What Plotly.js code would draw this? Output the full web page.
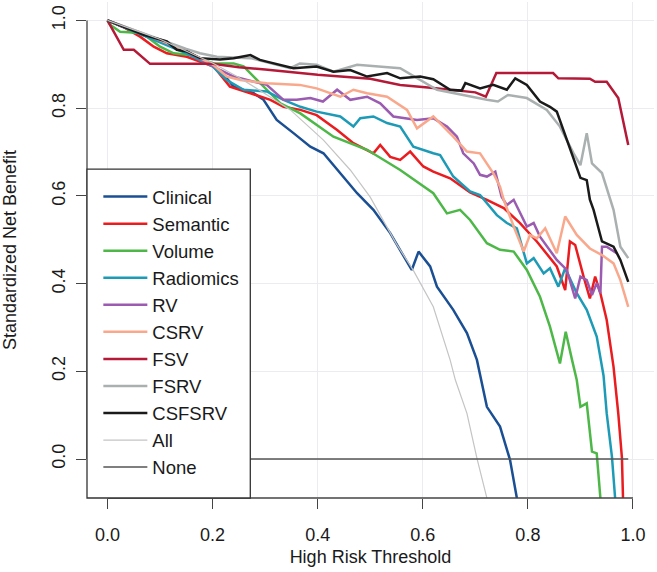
<!DOCTYPE html>
<html>
<head>
<meta charset="utf-8">
<script src="https://cdn.plot.ly/plotly-3.0.1.min.js"></script>
<style>
  html, body { margin: 0; padding: 0; background: #fff; }
  #chart { width: 657px; height: 572px; }
</style>
</head>
<body>
<div id="chart"></div>
<script>
// values
let clinicalX = [0, 0.05, 0.1, 0.15, 0.2, 0.227, 0.24, 0.278, 0.297, 0.322, 0.354, 0.386, 0.411, 0.443, 0.475, 0.506, 0.538, 0.579, 0.592, 0.614, 0.627, 0.658, 0.684, 0.703, 0.722, 0.747, 0.766, 0.779];
let clinicalY = [1.0, 0.975, 0.952, 0.928, 0.9, 0.868, 0.849, 0.834, 0.819, 0.773, 0.743, 0.712, 0.697, 0.652, 0.606, 0.568, 0.515, 0.431, 0.473, 0.439, 0.393, 0.34, 0.287, 0.226, 0.119, 0.074, -0.002, -0.089];

let semanticX = [0, 0.03, 0.062, 0.088, 0.113, 0.151, 0.202, 0.233, 0.272, 0.31, 0.335, 0.367, 0.398, 0.437, 0.468, 0.506, 0.519, 0.538, 0.557, 0.576, 0.601, 0.62, 0.652, 0.69, 0.722, 0.754, 0.785, 0.817, 0.855, 0.871, 0.88, 0.89, 0.906, 0.918, 0.928, 0.938, 0.95, 0.963, 0.972, 0.979, 0.981];
let semanticY = [1.0, 0.985, 0.963, 0.94, 0.925, 0.917, 0.895, 0.849, 0.834, 0.819, 0.803, 0.796, 0.784, 0.75, 0.72, 0.697, 0.716, 0.689, 0.682, 0.701, 0.667, 0.655, 0.64, 0.608, 0.591, 0.572, 0.538, 0.496, 0.439, 0.385, 0.496, 0.488, 0.416, 0.366, 0.416, 0.378, 0.317, 0.21, 0.104, 0.002, -0.089];

let volumeX = [0, 0.005, 0.024, 0.056, 0.075, 0.1, 0.126, 0.157, 0.202, 0.24, 0.259, 0.29, 0.329, 0.367, 0.43, 0.494, 0.557, 0.62, 0.646, 0.671, 0.69, 0.722, 0.747, 0.773, 0.798, 0.823, 0.842, 0.861, 0.872, 0.884, 0.893, 0.9, 0.912, 0.922, 0.931, 0.938];
let volumeY = [1.0, 0.99, 0.974, 0.972, 0.963, 0.94, 0.925, 0.921, 0.902, 0.902, 0.895, 0.857, 0.811, 0.788, 0.735, 0.705, 0.659, 0.606, 0.56, 0.568, 0.545, 0.492, 0.477, 0.473, 0.431, 0.37, 0.302, 0.218, 0.29, 0.226, 0.18, 0.119, 0.127, 0.017, 0.013, -0.089];

let radiomicsX = [0, 0.05, 0.1, 0.15, 0.2, 0.227, 0.259, 0.303, 0.335, 0.367, 0.398, 0.443, 0.468, 0.481, 0.506, 0.532, 0.557, 0.582, 0.62, 0.633, 0.658, 0.69, 0.709, 0.741, 0.76, 0.779, 0.798, 0.811, 0.83, 0.842, 0.858, 0.871, 0.893, 0.912, 0.931, 0.944, 0.95, 0.96, 0.966];
let radiomicsY = [1.0, 0.975, 0.95, 0.925, 0.895, 0.864, 0.842, 0.838, 0.819, 0.803, 0.792, 0.781, 0.758, 0.777, 0.781, 0.766, 0.758, 0.712, 0.697, 0.693, 0.644, 0.61, 0.602, 0.556, 0.538, 0.526, 0.446, 0.458, 0.423, 0.435, 0.393, 0.435, 0.378, 0.34, 0.279, 0.19, 0.104, 0.005, -0.089];

let rvX = [0, 0.05, 0.1, 0.15, 0.214, 0.24, 0.303, 0.335, 0.36, 0.386, 0.41, 0.437, 0.462, 0.494, 0.519, 0.544, 0.589, 0.62, 0.646, 0.665, 0.677, 0.697, 0.709, 0.722, 0.738, 0.75, 0.76, 0.773, 0.798, 0.811, 0.823, 0.855, 0.874, 0.89, 0.9, 0.912, 0.922, 0.931, 0.938, 0.941, 0.95, 0.969];
let rvY = [1.0, 0.978, 0.955, 0.93, 0.887, 0.872, 0.853, 0.819, 0.819, 0.823, 0.815, 0.842, 0.819, 0.826, 0.811, 0.781, 0.773, 0.777, 0.758, 0.735, 0.697, 0.674, 0.648, 0.644, 0.655, 0.598, 0.579, 0.591, 0.53, 0.538, 0.507, 0.454, 0.431, 0.366, 0.416, 0.408, 0.374, 0.401, 0.378, 0.484, 0.484, 0.469];

let csrvX = [0, 0.05, 0.1, 0.15, 0.2, 0.227, 0.253, 0.303, 0.366, 0.398, 0.443, 0.468, 0.494, 0.532, 0.57, 0.589, 0.62, 0.658, 0.684, 0.709, 0.734, 0.747, 0.754, 0.773, 0.792, 0.804, 0.817, 0.833, 0.855, 0.871, 0.893, 0.918, 0.941, 0.963, 0.976, 0.991];
let csrvY = [1.0, 0.978, 0.955, 0.93, 0.9, 0.872, 0.864, 0.857, 0.853, 0.845, 0.826, 0.842, 0.834, 0.826, 0.796, 0.754, 0.781, 0.735, 0.701, 0.697, 0.652, 0.621, 0.591, 0.53, 0.473, 0.511, 0.503, 0.526, 0.469, 0.553, 0.511, 0.48, 0.465, 0.446, 0.408, 0.347];

let fsvX = [0, 0.031, 0.05, 0.081, 0.2, 0.25, 0.3, 0.4, 0.5, 0.557, 0.62, 0.652, 0.7, 0.72, 0.74, 0.848, 0.858, 0.918, 0.928, 0.95, 0.972, 0.991];
let fsvY = [1.0, 0.933, 0.933, 0.901, 0.901, 0.893, 0.888, 0.876, 0.867, 0.853, 0.846, 0.842, 0.836, 0.826, 0.88, 0.88, 0.868, 0.867, 0.86, 0.86, 0.823, 0.716];

let fsrvX = [0, 0.05, 0.1, 0.15, 0.176, 0.208, 0.272, 0.348, 0.366, 0.398, 0.43, 0.475, 0.557, 0.6, 0.627, 0.722, 0.743, 0.762, 0.798, 0.836, 0.861, 0.887, 0.9, 0.912, 0.922, 0.941, 0.953, 0.963, 0.976, 0.991];
let fsrvY = [1.0, 0.978, 0.957, 0.935, 0.925, 0.917, 0.914, 0.891, 0.902, 0.899, 0.883, 0.899, 0.891, 0.862, 0.842, 0.819, 0.815, 0.83, 0.823, 0.796, 0.758, 0.697, 0.67, 0.743, 0.674, 0.652, 0.606, 0.568, 0.484, 0.458];

let csfsrvX = [0, 0.069, 0.113, 0.132, 0.151, 0.176, 0.214, 0.24, 0.272, 0.29, 0.303, 0.354, 0.398, 0.43, 0.462, 0.494, 0.532, 0.557, 0.595, 0.62, 0.652, 0.674, 0.681, 0.709, 0.734, 0.76, 0.776, 0.798, 0.823, 0.842, 0.855, 0.874, 0.887, 0.9, 0.912, 0.918, 0.925, 0.941, 0.963, 0.976, 0.991];
let csfsrvY = [1.0, 0.967, 0.952, 0.933, 0.929, 0.914, 0.911, 0.914, 0.921, 0.91, 0.906, 0.891, 0.895, 0.883, 0.887, 0.872, 0.88, 0.868, 0.872, 0.866, 0.842, 0.84, 0.857, 0.845, 0.853, 0.842, 0.868, 0.853, 0.815, 0.803, 0.792, 0.727, 0.682, 0.641, 0.636, 0.591, 0.568, 0.496, 0.484, 0.454, 0.404];

let allX = [0, 0.1, 0.2, 0.25, 0.3, 0.348, 0.411, 0.462, 0.5, 0.55, 0.582, 0.62, 0.652, 0.662, 0.684, 0.703, 0.722];
let allY = [1.0, 0.957, 0.903, 0.87, 0.833, 0.796, 0.727, 0.659, 0.597, 0.49, 0.43, 0.347, 0.226, 0.18, 0.104, 0.002, -0.089];

let noneX = [0, 0.991];
let noneY = [0, 0];

let tickVals = [0, 0.2, 0.4, 0.6, 0.8, 1.0];

const FONT = 'Liberation Sans, Arial, sans-serif';

function curve(name, x, y, color, width) {
    return {
        x: x,
        y: y,
        name: name,
        type: 'scatter',
        mode: 'lines',
        line: { color: color, width: width },
        hoverinfo: 'skip'
    };
}

let data = [
    curve('Clinical', clinicalX, clinicalY, '#1b4f93', 2.5),
    curve('Semantic', semanticX, semanticY, '#ea1c1f', 2.5),
    curve('Volume', volumeX, volumeY, '#4db848', 2.5),
    curve('Radiomics', radiomicsX, radiomicsY, '#1d9bb6', 2.5),
    curve('RV', rvX, rvY, '#9a5bb0', 2.5),
    curve('CSRV', csrvX, csrvY, '#f9a88c', 2.5),
    curve('FSV', fsvX, fsvY, '#b41a38', 2.5),
    curve('FSRV', fsrvX, fsrvY, '#aab0b0', 2.5),
    curve('CSFSRV', csfsrvX, csfsrvY, '#1a1a1a', 2.5),
    curve('All', allX, allY, '#c4c4c4', 1.2),
    curve('None', noneX, noneY, '#555555', 1.5)
];

let layout = {
    width: 657,
    height: 572,
    margin: { l: 86.7, r: 3.2, t: 2, b: 74 },
    paper_bgcolor: '#ffffff',
    plot_bgcolor: '#ffffff',
    font: { family: FONT, size: 18, color: '#1a1a1a' },
    showlegend: true,
    legend: {
        x: 0.02,
        y: 0.645,
        xanchor: 'left',
        yanchor: 'top',
        bgcolor: 'rgba(0,0,0,0)',
        borderwidth: 0,
        itemwidth: 44,
        font: { family: FONT, size: 18.5, color: '#1a1a1a' },
        tracegroupgap: 0
    },
    xaxis: {
        range: [-0.039, 1.04],
        tickvals: tickVals,
        tickformat: '.1f',
        ticks: 'outside',
        ticklen: 10,
        tickcolor: '#444',
        ticklabelstandoff: 10,
        showline: false,
        zeroline: false,
        showgrid: true,
        gridcolor: '#ebebf0',
        gridwidth: 1,
        title: { text: 'High Risk Threshold', font: { family: FONT, size: 18 }, standoff: 6 }
    },
    yaxis: {
        range: [-0.0889, 1.042],
        tickvals: tickVals,
        tickformat: '.1f',
        tickangle: -90,
        ticks: 'outside',
        ticklen: 10,
        tickcolor: '#444',
        ticklabelstandoff: 4,
        showline: false,
        zeroline: false,
        showgrid: true,
        gridcolor: '#ebebf0',
        gridwidth: 1,
        title: { text: 'Standardized Net Benefit', font: { family: FONT, size: 18 }, standoff: 30 }
    },
    shapes: [
        // axis lines drawn from first to last tick, like base R
        { type: 'line', xref: 'x', yref: 'paper', x0: 0, x1: 1, y0: 0, y1: 0, line: { color: '#444', width: 1.3 } },
        { type: 'line', xref: 'paper', yref: 'y', x0: 0, x1: 0, y0: 0, y1: 1, line: { color: '#444', width: 1.3 } },
        // legend box
        { type: 'rect', xref: 'paper', yref: 'paper', x0: 0, x1: 0.288, y0: 0, y1: 0.663,
          fillcolor: '#ffffff', line: { color: '#333', width: 1.3 }, layer: 'above' }
    ]
};

Plotly.newPlot('chart', data, layout, { staticPlot: true, displayModeBar: false });
</script>
</body>
</html>
